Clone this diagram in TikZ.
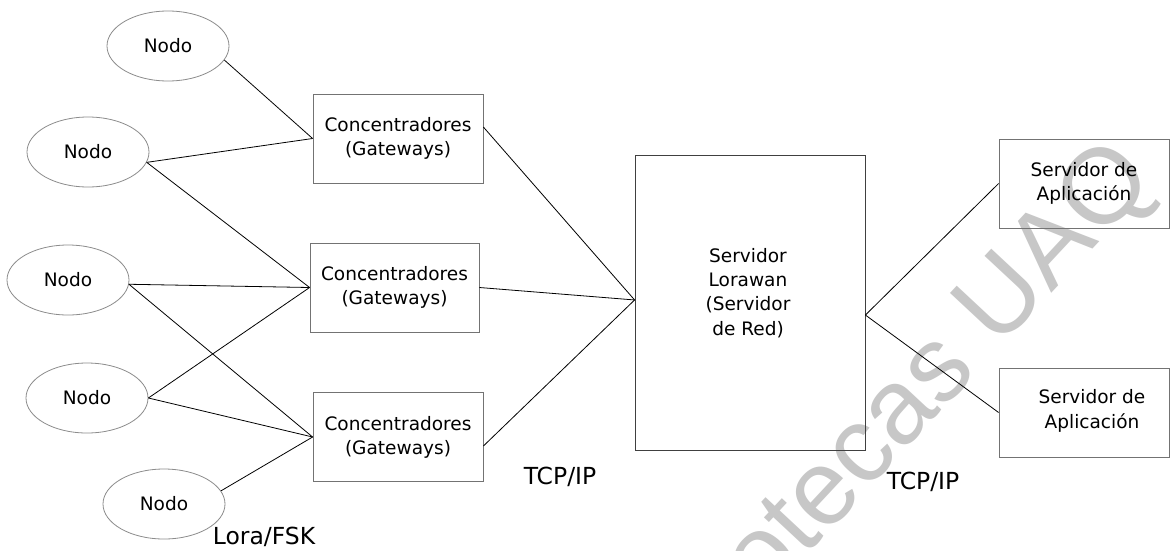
\documentclass[tikz,border=0pt]{standalone}
\usepackage{fontspec}
\setmainfont{DejaVu Sans}
\newfontfamily\markfont{Liberation Sans}
\usetikzlibrary{shapes.geometric}
\begin{document}
\begin{tikzpicture}[x=0.75pt,y=-0.75pt,
  nodo/.style={ellipse,draw=black!45,line width=0.6pt,minimum width=91.5pt,
    minimum height=52.5pt,inner sep=0pt,font=\fontsize{13.9}{18}\selectfont},
  caja/.style={rectangle,draw=black!55,line width=0.6pt,inner sep=0pt,
    align=center,font=\fontsize{13.9}{18}\selectfont},
  gw/.style={caja,minimum width=127.5pt,minimum height=66.75pt},
  texto/.style={inner sep=0pt,align=center,font=\fontsize{13.9}{18.2}\selectfont},
  enlace/.style={draw=black,line width=0.6pt},
  etiqueta/.style={inner sep=0pt,font=\fontsize{17.6}{21}\selectfont}]

\useasboundingbox (0,0) rectangle (1170,550);
\fill[white] (0,0) rectangle (1170,550);

% library watermark behind the diagram
\begin{scope}
  \clip (0,0) rectangle (1170,550);
  \node[rotate=47,text=black!22,inner sep=0pt,
    font=\markfont\fontsize{80}{80}\selectfont] (marca) at (871,445) {Bibliotecas UAQ};
\end{scope}

% end devices
\node[nodo] (n1) at (168,46)  {Nodo};
\node[nodo] (n2) at (88,152)  {Nodo};
\node[nodo] (n3) at (68,280)  {Nodo};
\node[nodo] (n4) at (87,398)  {Nodo};
\node[nodo] (n5) at (164,504) {Nodo};

% gateways
\node[gw] (g1) at (398,138.5) {Concentradores\\(Gateways)};
\node[gw,minimum width=126.75pt] (g2) at (394.5,287.5) {Concentradores\\(Gateways)};
\node[gw] (g3) at (398,437) {Concentradores\\(Gateways)};

% network server
\node[caja,draw=black!75,minimum width=172.5pt,minimum height=221.25pt] (srv) at (750,302.5) {};
\node[texto] (srvtxt) at (748,293) {Servidor\\Lorawan\\(Servidor\\de Red)};

% application servers
\node[gw] (a1) at (1084,183.5) {Servidor de\\Aplicación};
\node[gw] (a2) at (1084,412.5) {};
\node[texto] (a2txt) at (1092,411) {Servidor de\\Aplicación};

% radio links
\draw[enlace] (n1.-14) -- (g1.west);
\draw[enlace] (n2.-10) -- (g1.west);
\draw[enlace] (n2.-10) -- (g2.west);
\draw[enlace] (n3.-4)  -- (g2.west);
\draw[enlace] (n3.-4)  -- (g3.west);
\draw[enlace] (n4.east) -- (g2.west);
\draw[enlace] (n4.east) -- (g3.west);
\draw[enlace] (n5.13)  -- (g3.west);

% backhaul links
\draw[enlace] ([yshift=8.6pt]g1.east) -- ([yshift=1.9pt]srv.west);
\draw[enlace] (g2.east) -- ([yshift=1.9pt]srv.west);
\draw[enlace] ([yshift=-6.75pt]g3.east) -- ([yshift=1.9pt]srv.west);
\draw[enlace] ([yshift=-9.4pt]srv.east) -- (a1.west);
\draw[enlace] ([yshift=-9.4pt]srv.east) -- (a2.west);

% protocol labels
\node[etiqueta] (tcp1) at (560,477) {TCP/IP};
\node[etiqueta] (tcp2) at (923,482) {TCP/IP};
\node[etiqueta] (lora) at (264,537) {Lora/FSK};
\end{tikzpicture}
\end{document}
